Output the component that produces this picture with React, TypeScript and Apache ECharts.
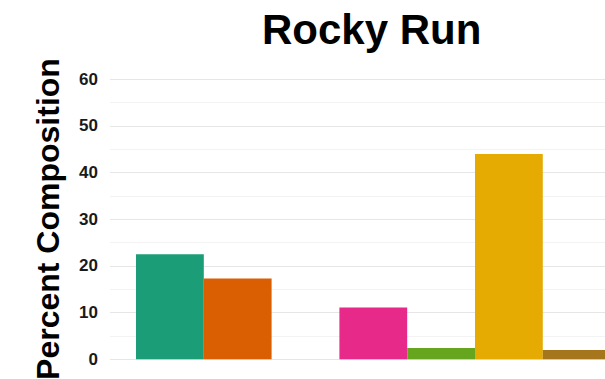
import React, { useEffect, useRef } from "react";
import * as echarts from "echarts";

const categories = ["Rocky Run"];
const groupNames = ["Group A", "Group B", "Group C", "Group D", "Group E", "Group F", "Group G", "Group H"];
const groupValues = [22.5, 17.3, 0, 11.1, 2.4, 44.0, 2.0, 0];
const groupColors = ["#1B9E77", "#D95F02", "#7570B3", "#E7298A", "#66A61E", "#E6AB02", "#A6761D", "#666666"];
const yTicks = [0, 10, 20, 30, 40, 50, 60];

const FONT = "'Liberation Sans', Arial, Helvetica, sans-serif";

export default function App() {
  const ref = useRef<HTMLDivElement>(null);
  useEffect(() => {
    if (!ref.current) return;
    const chart = echarts.init(ref.current, null, { renderer: "svg" });
    chart.setOption({
      animation: false,
      backgroundColor: "#ffffff",
      title: {
        text: "Rocky Run",
        left: 257,
        top: 3,
        textStyle: { fontFamily: FONT, fontSize: 42, fontWeight: "bold", color: "#000000" },
      },
      graphic: [
        {
          type: "text",
          x: 48,
          y: 219,
          rotation: Math.PI / 2,
          style: {
            text: "Percent Composition",
            fontFamily: FONT,
            fontSize: 32,
            fontWeight: "bold",
            fill: "#000000",
            align: "center",
            verticalAlign: "middle",
          },
        },
      ],
      grid: { left: 110, right: 15.6, top: 79.3, bottom: 19.7, containLabel: false },
      xAxis: {
        type: "category",
        data: categories,
        axisLine: { show: false },
        axisTick: { show: false },
        axisLabel: { show: false },
        splitLine: { show: false },
      },
      yAxis: {
        type: "value",
        min: yTicks[0],
        max: yTicks[yTicks.length - 1],
        interval: 10,
        axisLine: { show: false },
        axisTick: { show: false },
        axisLabel: {
          margin: 12,
          fontFamily: FONT,
          fontSize: 17,
          fontWeight: "bold",
          color: "#1a1a1a",
        },
        splitLine: { show: true, lineStyle: { color: "#e6e6e6", width: 1 } },
        minorTick: { show: false, splitNumber: 2 },
        minorSplitLine: { show: true, lineStyle: { color: "#f3f3f3", width: 1 } },
      },
      series: groupNames.map((name, i) => ({
        name,
        type: "bar",
        data: [groupValues[i]],
        barWidth: 67.8,
        barGap: "0%",
        itemStyle: { color: groupColors[i] },
      })),
    });
    return () => chart.dispose();
  }, []);
  return (
    <div
      ref={ref}
      style={{ position: "fixed", left: 0, top: 0, width: 720, height: 379, background: "#fff" }}
    />
  );
}
